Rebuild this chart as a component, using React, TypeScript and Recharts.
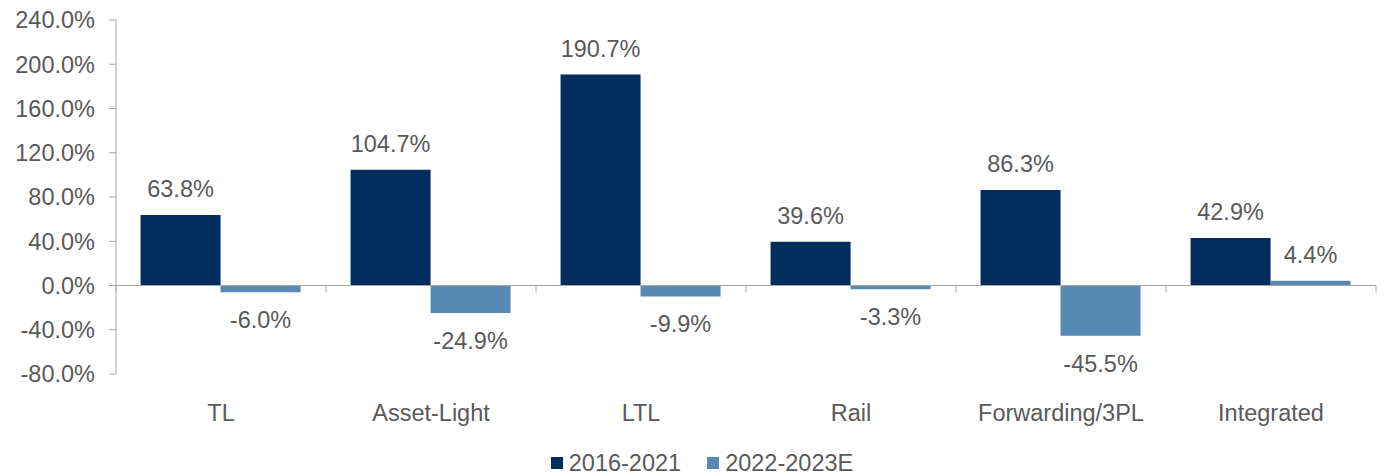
import { BarChart, Bar, XAxis, YAxis, Legend, LabelList, ReferenceLine } from 'recharts';

const categories = ['TL', 'Asset-Light', 'LTL', 'Rail', 'Forwarding/3PL', 'Integrated'];
const growth2016to2021 = [63.8, 104.7, 190.7, 39.6, 86.3, 42.9];
const growth2022to2023E = [-6.0, -24.9, -9.9, -3.3, -45.5, 4.4];
const yTicks = [-80, -40, 0, 40, 80, 120, 160, 200, 240];

const DARK = '#002D5E';
const LIGHT = '#5789B5';
const TEXT = '#595959';
const AXIS = '#A6A6A6';
const FONT = '"Liberation Sans", Arial, sans-serif';
const FS = 23.5;

const data = categories.map((name, i) => ({
  name,
  a: growth2016to2021[i],
  b: growth2022to2023E[i],
}));

const pct = (v: number) => `${v.toFixed(1)}%`;

function BarLabel(props: any) {
  const { x, y, width, height, value } = props;
  const top = Math.min(y, y + height);
  const bottom = Math.max(y, y + height);
  const ty = value >= 0 ? top - 18 : bottom + 36;
  return (
    <text x={x + width / 2} y={ty} textAnchor="middle" fill={TEXT} fontSize={FS} fontFamily={FONT}>
      {pct(value)}
    </text>
  );
}

function ZeroAxis(props: any) {
  const { x1, x2, y1 } = props;
  const step = (x2 - x1) / categories.length;
  const marks = [];
  for (let i = 0; i <= categories.length; i++) {
    const tx = x1 + step * i;
    marks.push(<line key={i} x1={tx} x2={tx} y1={y1} y2={y1 + 7} stroke={AXIS} strokeWidth={1} />);
  }
  return (
    <g>
      <line x1={x1} x2={x2} y1={y1} y2={y1} stroke={AXIS} strokeWidth={1} />
      {marks}
    </g>
  );
}

function LegendContent() {
  const items = [
    { label: '2016-2021', color: DARK },
    { label: '2022-2023E', color: LIGHT },
  ];
  return (
    <div
      style={{
        display: 'flex',
        justifyContent: 'center',
        gap: 26,
        marginLeft: 28,
        fontFamily: FONT,
        fontSize: FS,
        color: TEXT,
        lineHeight: '26px',
      }}
    >
      {items.map((it) => (
        <div key={it.label} style={{ display: 'flex', alignItems: 'center' }}>
          <span style={{ width: 12, height: 12, background: it.color, display: 'inline-block', marginRight: 6 }} />
          <span>{it.label}</span>
        </div>
      ))}
    </div>
  );
}

export default function App() {
  return (
    <div style={{ position: 'absolute', left: 0, top: 0 }}>
      <BarChart
        width={1389}
        height={476}
        data={data}
        margin={{ top: 20, right: 13, left: 0, bottom: 0 }}
        barCategoryGap="11.7%"
        barGap={0}
      >
        <YAxis
          domain={[-80, 240]}
          ticks={yTicks}
          tickFormatter={pct}
          width={116}
          tickSize={7}
          tickMargin={14}
          stroke={AXIS}
          tick={{ fill: TEXT, fontSize: FS, fontFamily: FONT }}
          interval={0}
        />
        <XAxis
          dataKey="name"
          axisLine={false}
          tickLine={false}
          tickSize={0}
          tickMargin={30}
          height={76}
          interval={0}
          tick={{ fill: TEXT, fontSize: FS, fontFamily: FONT }}
        />
        <Bar dataKey="a" name="2016-2021" fill={DARK} isAnimationActive={false}>
          <LabelList dataKey="a" content={BarLabel} />
        </Bar>
        <Bar dataKey="b" name="2022-2023E" fill={LIGHT} isAnimationActive={false}>
          <LabelList dataKey="b" content={BarLabel} />
        </Bar>
        <ReferenceLine y={0} shape={ZeroAxis} />
        <Legend verticalAlign="bottom" height={26} content={LegendContent} />
      </BarChart>
    </div>
  );
}
